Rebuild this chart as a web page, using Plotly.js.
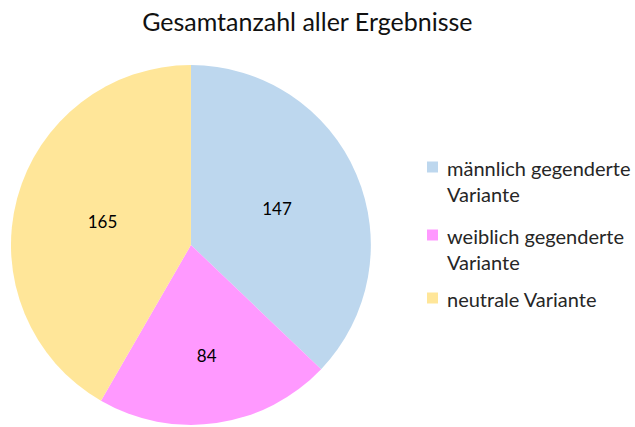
<!DOCTYPE html>
<html><head><meta charset="utf-8">
<script src="https://cdn.plot.ly/plotly-3.0.1.min.js"></script>
<style>html,body{margin:0;padding:0;background:#fff}</style>
</head><body>
<div id="chart" style="width:635px;height:427px"></div>
<script>
const categories = ["männlich gegenderte<br>Variante", "weiblich gegenderte<br>Variante", "neutrale Variante"];
const values = [147, 84, 165];
const colors = ["#BDD7EE", "#FF99FF", "#FFE699"];

const W = 635, H = 427;
// legend layout (pixel positions from top-left)
const legendTop = [167, 235, 298];   // first-line centre of each entry
const legendTextX = 445, legendBoxX = 427, boxSize = 11;

const annotations = categories.map((c, i) => ({
  xref: "paper", yref: "paper",
  x: legendTextX / W, y: 1 - (legendTop[i] - 13) / H,
  xanchor: "left", yanchor: "top", align: "left",
  text: c, showarrow: false,
  font: {family: "Lato, sans-serif", size: 20, color: "#262626"}
}));
const shapes = categories.map((c, i) => ({
  type: "rect", xref: "paper", yref: "paper",
  x0: legendBoxX / W, x1: (legendBoxX + boxSize) / W,
  y0: 1 - (legendTop[i] + boxSize / 2) / H, y1: 1 - (legendTop[i] - boxSize / 2) / H,
  fillcolor: colors[i], line: {width: 0}
}));

const data = [{
  type: "pie",
  labels: categories,
  values: values,
  sort: false,
  direction: "clockwise",
  rotation: 0,
  marker: {colors: colors, line: {width: 0}},
  textinfo: "value",
  textposition: "inside",
  insidetextorientation: "horizontal",
  textfont: {family: "Lato, sans-serif", size: 17, color: "#000"},
  hoverinfo: "label+value",
  domain: {x: [0.0173, 0.584], y: [0.0047, 0.8478]}
}];

const layout = {
  width: W, height: H,
  margin: {l: 0, r: 0, t: 0, b: 0},
  paper_bgcolor: "#fff",
  title: {text: "Gesamtanzahl aller Ergebnisse", x: 0.484, xanchor: "center", y: 0.948, yanchor: "middle",
          font: {family: "Lato, sans-serif", size: 25, color: "#111"}},
  showlegend: false,
  annotations: annotations,
  shapes: shapes
};

Plotly.newPlot("chart", data, layout, {displayModeBar: false, staticPlot: true});
</script>
</body></html>
